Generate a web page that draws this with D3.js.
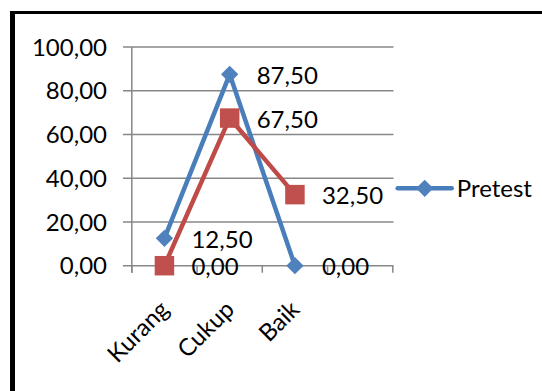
<!DOCTYPE html>
<html>
<head>
<meta charset="utf-8">
<script src="https://cdn.jsdelivr.net/npm/d3@7"></script>
<style>
  body { margin:0; background:#fff; }
  svg text { font-family: Lato, "Open Sans", sans-serif; fill:#000; }
</style>
</head>
<body>
<svg id="chart"></svg>
<script>
// chart data
var categories=["Kurang","Cukup","Baik",""];
var pretest=[12.5,87.5,0];
var posttest=[0,67.5,32.5];
var yTicks=[0,20,40,60,80,100];
var legendLabels=["Pretest"];

var W=542, H=391;
var svg=d3.select('#chart').attr('width',W).attr('height',H);
svg.append('rect').attr('width',W).attr('height',H).attr('fill','#fff');

// frame (top + left only visible)
svg.append('rect').attr('x',10).attr('y',11).attr('width',W-10).attr('height',3).attr('fill','#000');
svg.append('rect').attr('x',10).attr('y',11).attr('width',5).attr('height',H-11).attr('fill','#000');

var loc=d3.formatLocale({decimal:",",thousands:".",grouping:[3],currency:["",""]});
var fmt=loc.format(".2f");

var x=d3.scaleBand().domain(categories).range([131.8,392.8]);
var y=d3.scaleLinear().domain([0,100]).range([265.7,47]);
var cx=function(i) {return x(categories[i])+x.bandwidth()/2;};

var grid='#878787';
var gg=svg.append('g');

// gridlines + y ticks
gg.selectAll('line.grid').data(yTicks).enter().append('line')
  .attr('x1',123).attr('x2',393.5)
  .attr('y1',function(d) {return y(d);}).attr('y2',function(d) {return y(d);})
  .attr('stroke',grid).attr('stroke-width',1.5);
gg.selectAll('text.ytick').data(yTicks).enter().append('text')
  .attr('x',107).attr('y',function(d) {return y(d)+8.6;})
  .attr('text-anchor','end').style('font-size','24px')
  .text(function(d) {return fmt(d);});

// y axis line
gg.append('line').attr('x1',x.range()[0]).attr('x2',x.range()[0])
  .attr('y1',y(100)).attr('y2',y(0)+7).attr('stroke',grid).attr('stroke-width',1.5);
// x ticks
var xt=categories.map(function(c) {return x(c);}).concat([x.range()[1]]);
gg.selectAll('line.xtick').data(xt).enter().append('line')
  .attr('x1',function(d) {return d;}).attr('x2',function(d) {return d;})
  .attr('y1',y(0)).attr('y2',y(0)+7).attr('stroke',grid).attr('stroke-width',1.5);

// category labels
gg.selectAll('text.xlab').data(categories.filter(function(c) {return c;})).enter().append('text')
  .attr('text-anchor','end').style('font-size','24px')
  .attr('transform',function(d,i) {return 'translate('+(cx(i)+6)+','+311+') rotate(-45)';})
  .text(function(d) {return d;});

var series=[
  {name:'Pretest',values:pretest,line:'#4a7ebb',fill:'#4f81bd',sym:'diamond'},
  {name:'Posttest',values:posttest,line:'#be4b48',fill:'#c0504d',sym:'square'}
];
var line=d3.line().x(function(d,i) {return cx(i);}).y(function(d) {return y(d);});
var diamond=d3.symbol().type(d3.symbolSquare).size(150);
var square=d3.symbol().type(d3.symbolSquare).size(380);

series.forEach(function(s) {
  gg.append('path').attr('d',line(s.values)).attr('fill','none')
    .attr('stroke',s.line).attr('stroke-width',4.5).attr('stroke-linejoin','round');
  gg.selectAll(null).data(s.values).enter().append('path')
    .attr('d',s.sym=='diamond'?diamond:square)
    .attr('transform',function(d,i) {return 'translate('+cx(i)+','+y(d)+')'+(s.sym=='diamond'?' rotate(45)':'');})
    .attr('fill',s.fill);
});
series.forEach(function(s) {
  gg.selectAll(null).data(s.values).enter().append('text')
    .attr('x',function(d,i) {return cx(i)+27;})
    .attr('y',function(d) {return y(d)+9.5;})
    .style('font-size','24px')
    .text(function(d) {return fmt(d);});
});

// legend
var lg=svg.append('g').attr('transform','translate(397.7,188.3)');
lg.append('line').attr('x1',0).attr('x2',54).attr('stroke','#4a7ebb').attr('stroke-width',4.5).attr('stroke-linecap','round');
lg.append('path').attr('d',diamond).attr('transform','translate(27,0) rotate(45)').attr('fill','#4f81bd');
lg.append('text').attr('x',59).attr('y',8.3).style('font-size','24px').text(legendLabels[0]);
</script>
</body>
</html>
